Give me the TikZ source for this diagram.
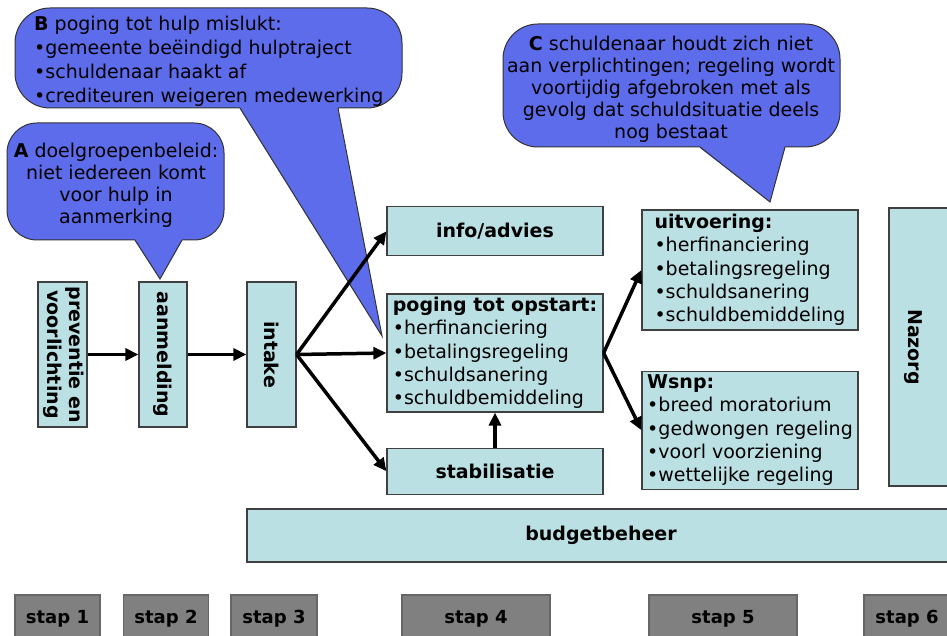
\documentclass[tikz,border=0pt]{standalone}
\usepackage{fontspec}
\setmainfont{DejaVu Sans}
\usepackage{tikz}
\usetikzlibrary{positioning, arrows.meta}
\definecolor{boxblue}{RGB}{187,224,227}
\definecolor{bubblue}{RGB}{93,108,235}
\definecolor{stapgrey}{RGB}{128,128,128}
\tikzset{block/.style={draw=black!75, fill=boxblue, line width=1.2pt, inner sep=0pt, align=center, font=\fontsize{19}{23}\selectfont\bfseries},
listblock/.style={block, align=left, minimum width=216pt, font=\fontsize{19}{23.3}\selectfont},
upright/.style={block, minimum height=145pt, font=\fontsize{19}{22}\selectfont\bfseries},
stapbox/.style={draw=black!60, fill=stapgrey, line width=1.2pt, minimum height=48pt, inner sep=0pt, font=\fontsize{18}{22}\selectfont\bfseries},
bubble/.style={draw=black!80, fill=bubblue, line width=1pt, rounded corners=35pt},
tail/.style={draw=black!80, line width=1pt},
bubtext/.style={inner sep=0pt, font=\fontsize{19}{22}\selectfont},
line/.style={-{Triangle[length=13pt,width=12pt]}, line width=3.5pt}
}
\begin{document}
\begin{tikzpicture}[x=1pt, y=-1pt]
\useasboundingbox (0,0) rectangle (947,636);
\clip (0,0) rectangle (947,636);
% speech bubbles B, A and C
\draw[bubble] (15,8) rectangle (402,108);
\fill[bubblue] (240,100) -- (240,109) -- (382,336) -- (338,109) -- (338,100) -- cycle;
\draw[tail] (240,108) -- (382,336) -- (338,108);
\node[bubtext, anchor=west, align=left, font=\fontsize{19}{24}\selectfont] (noteB) at (34,61) {\textbf{B} poging tot hulp mislukt:\\•gemeente beëindigd hulptraject\\•schuldenaar haakt af\\•crediteuren weigeren medewerking};
\draw[bubble, rounded corners=30pt] (7,123) rectangle (224,240);
\fill[bubblue] (135,232) -- (135,241) -- (160,279) -- (182,241) -- (182,232) -- cycle;
\draw[tail] (135,240) -- (160,279) -- (182,240);
\node[bubtext, align=center] (noteA) at (116,185) {\textbf{A} doelgroepenbeleid:\\niet iedereen komt\\voor hulp in\\aanmerking};
\draw[bubble] (503,24) rectangle (840,147);
\fill[bubblue] (700,139) -- (700,148) -- (770,202) -- (785,148) -- (785,139) -- cycle;
\draw[tail] (700,147) -- (770,202) -- (785,147);
\node[bubtext, align=center] (noteC) at (671,89) {\textbf{C} schuldenaar houdt zich niet\\aan verplichtingen; regeling wordt\\voortijdig afgebroken met als\\gevolg dat schuldsituatie deels\\nog bestaat};
% steps 1-3
\node[upright, minimum width=49pt] (prev) at (62.5,354.5) {\rotatebox{-90}{\begin{tabular}{@{}c@{}}preventie en\\voorlichting\end{tabular}}};
\node[upright, minimum width=48pt] (aanm) at (163,354.5) {\rotatebox{-90}{aanmelding}};
\node[upright, minimum width=49pt] (intake) at (271.5,354.5) {\rotatebox{-90}{intake}};
% step 4
\node[listblock, minimum height=118pt] (opstart) at (495,353) {\textbf{poging tot opstart:}\\•herfinanciering\\•betalingsregeling\\•schuldsanering\\•schuldbemiddeling};
\node[block, minimum width=216pt, minimum height=49pt, above=37pt of opstart] (info) {info/advies};
\node[block, minimum width=216pt, minimum height=46pt, below=35pt of opstart] (stab) {stabilisatie};
% step 5 and 6
\node[listblock, minimum height=120pt] (uitv) at (750,270) {\textbf{uitvoering:}\\•herfinanciering\\•betalingsregeling\\•schuldsanering\\•schuldbemiddeling};
\node[listblock, minimum height=118pt, below=40pt of uitv] (wsnp) {\textbf{Wsnp:}\\•breed moratorium\\•gedwongen regeling\\•voorl voorziening\\•wettelijke regeling};
\node[block, minimum width=76pt, minimum height=278pt] (nazorg) at (927,347) {\rotatebox{-90}{Nazorg}\hspace*{28pt}};
\node[block, minimum width=708pt, minimum height=53pt] (budget) at (601,535.5) {budgetbeheer};
% step labels
\node[stapbox, minimum width=85pt] (stap1) at (57.5,619) {stap 1};
\node[stapbox, minimum width=85pt] (stap2) at (166,619) {stap 2};
\node[stapbox, minimum width=86pt] (stap3) at (274,619) {stap 3};
\node[stapbox, minimum width=148pt] (stap4) at (476,619) {stap 4};
\node[stapbox, minimum width=148pt] (stap5) at (723,619) {stap 5};
\node[stapbox, minimum width=86pt] (stap6) at (907,619) {stap 6};
% arrows
\draw[line] (prev.east) -- (aanm.west);
\draw[line] (aanm.east) -- (intake.west);
\draw[line] (intake.east) -- (info.west);
\draw[line] (intake.east) -- (opstart.west);
\draw[line] (intake.east) -- (stab.west);
\draw[line] (stab.north) -- (opstart.south);
\draw[line] (opstart.east) -- (uitv.west);
\draw[line] (opstart.east) -- (wsnp.west);
\end{tikzpicture}
\end{document}
